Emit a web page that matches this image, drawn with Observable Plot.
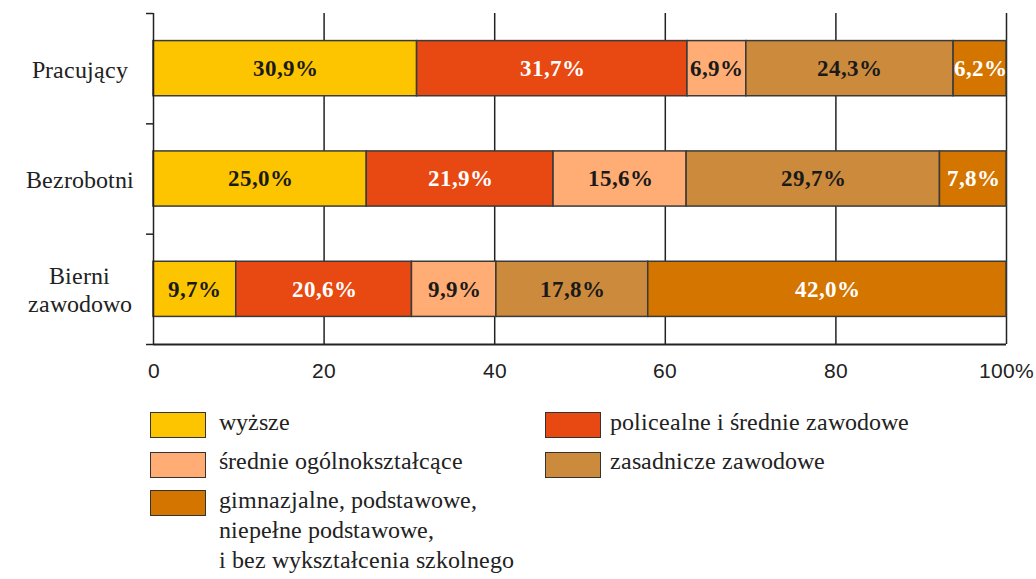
<!DOCTYPE html>
<html>
<head>
<meta charset="utf-8">
<script src="https://cdn.jsdelivr.net/npm/d3@7"></script>
<script src="https://cdn.jsdelivr.net/npm/@observablehq/plot@0.6"></script>
<style>
  @font-face { font-family: "RSerif"; font-weight: 400; src: local("Liberation Serif"), local("LiberationSerif"), local("LiberationSerif-Regular"), local("Times New Roman"), local("Tinos"); }
  @font-face { font-family: "RSerif"; font-weight: 700; src: local("Liberation Serif Bold"), local("LiberationSerif-Bold"), local("Times New Roman Bold"), local("Tinos Bold"); }
  @font-face { font-family: "RSans"; font-weight: 400; src: local("Liberation Sans"), local("LiberationSans"), local("LiberationSans-Regular"), local("Arial"), local("Arimo"); }
  html, body { margin: 0; padding: 0; background: #fff; }
  #chart { position: relative; width: 1036px; }
  #legend { position: relative; width: 1036px; height: 179px; font-family: RSerif, 'Liberation Serif', serif; font-size: 24px; color: #222; }
  .sw { position: absolute; width: 56px; height: 26px; border: 1px solid #333; box-sizing: border-box; }
  .lt { position: absolute; line-height: 30px; white-space: pre; font-family: RSerif, 'Liberation Serif', serif; }
</style>
</head>
<body>
<div id="chart"></div>
<div id="legend"></div>
<script>
const groups = ["Pracujący", "Bezrobotni", "Bierni\nzawodowo"];
const levels = ["wyższe", "policealne i średnie zawodowe", "średnie ogólnokształcące", "zasadnicze zawodowe", "gimnazjalne, podstawowe,\nniepełne podstawowe,\ni bez wykształcenia szkolnego"];
const colors = ["#FDC500", "#E84811", "#FFAD74", "#CC8A3D", "#D47500"];
const labelColors = ["#1a1a1a", "#ffffff", "#1a1a1a", "#1a1a1a", "#ffffff"];
const pracujacy = [30.9, 31.7, 6.9, 24.3, 6.2];
const bezrobotni = [25.0, 21.9, 15.6, 29.7, 7.8];
const bierni = [9.7, 20.6, 9.9, 17.8, 42.0];
const xTicks = [0, 20, 40, 60, 80, 100];

const SERIF = "RSerif, Liberation Serif, serif";
const SANS = "RSans, Liberation Sans, Arial, sans-serif";

const series = [pracujacy, bezrobotni, bierni];
const segs = [];
series.forEach((vals, gi) => {
  let acc = 0;
  vals.forEach((v, li) => {
    segs.push({gi, li, level: levels[li], value: v, x1: acc, x2: acc + v});
    acc += v;
  });
});
const fmt = v => v.toFixed(1).replace(".", ",") + "%";

const plot = Plot.plot({
  width: 1036,
  height: 400,
  marginLeft: 153,
  marginRight: 30,
  marginTop: 13,
  marginBottom: 56,
  style: {fontFamily: SANS, fontSize: "21px", color: "#222", background: "#fff"},
  x: {domain: [0, 100], label: null},
  y: {domain: [0, 3], reverse: true, label: null},
  color: {domain: levels, range: colors},
  marks: [
    Plot.ruleX(xTicks.slice(1), {stroke: "#222", strokeWidth: 1.5}),
    Plot.rectX(segs, {x1: "x1", x2: "x2", y1: d => d.gi + 0.25, y2: d => d.gi + 0.75, fill: "level", stroke: "#3a3a3a", strokeWidth: 1.5}),
    Plot.ruleX([0], {stroke: "#222", strokeWidth: 1.5}),
    Plot.ruleY([3], {stroke: "#222", strokeWidth: 2}),
    Plot.axisY({ticks: [0, 1, 2, 3], tickFormat: () => "", tickSize: 7, stroke: "#222", strokeWidth: 1.5, label: null}),
    Plot.axisX({ticks: xTicks, tickFormat: d => d === 100 ? "100%" : String(d), tickSize: 0, tickPadding: 19, fill: "#222", fontFamily: SANS, fontSize: 21, label: null}),
    Plot.text(segs.filter(d => labelColors[d.li] !== "#ffffff"), {x: d => (d.x1 + d.x2) / 2, y: d => d.gi + 0.5, text: d => fmt(d.value), fill: "#1a1a1a", fontWeight: "bold", fontFamily: SERIF, fontSize: 23}),
    Plot.text(segs.filter(d => labelColors[d.li] === "#ffffff"), {x: d => (d.x1 + d.x2) / 2, y: d => d.gi + 0.5, text: d => fmt(d.value), fill: "#ffffff", fontWeight: "bold", fontFamily: SERIF, fontSize: 23}),
    Plot.text(groups, {x: 0, y: (d, i) => i + 0.5, dx: -74, text: d => d, textAnchor: "middle", lineHeight: 1.15, fill: "#222", fontFamily: SERIF, fontSize: 24})
  ]
});
document.getElementById("chart").appendChild(plot);

const legend = document.getElementById("legend");
const pos = [
  {sx: 150, sy: 12, tx: 219, ty: 7},
  {sx: 545, sy: 12, tx: 610, ty: 7},
  {sx: 150, sy: 52, tx: 219, ty: 46},
  {sx: 545, sy: 52, tx: 610, ty: 46},
  {sx: 150, sy: 90, tx: 219, ty: 85}
];
levels.forEach((lv, i) => {
  const s = document.createElement("div");
  s.className = "sw";
  s.style.left = pos[i].sx + "px";
  s.style.top = pos[i].sy + "px";
  s.style.background = colors[i];
  legend.appendChild(s);
  const t = document.createElement("div");
  t.className = "lt";
  t.style.left = pos[i].tx + "px";
  t.style.top = pos[i].ty + "px";
  t.textContent = lv;
  legend.appendChild(t);
});
</script>
</body>
</html>
